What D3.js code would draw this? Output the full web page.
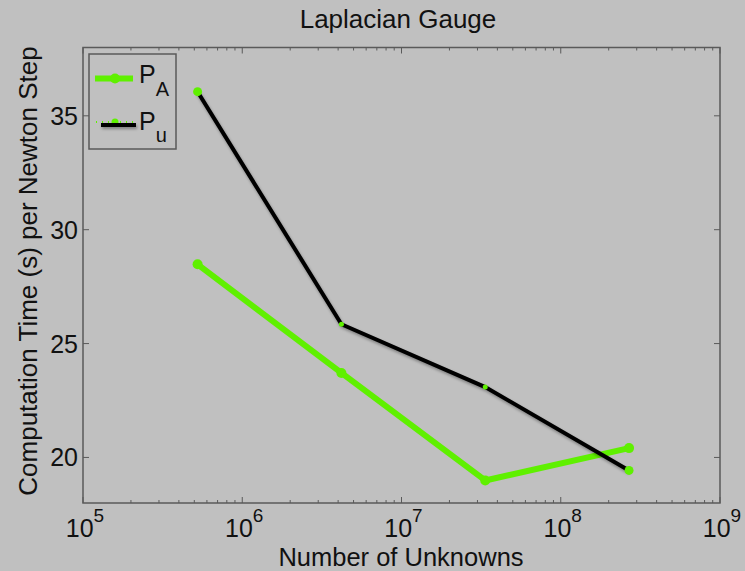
<!DOCTYPE html>
<html><head><meta charset="utf-8">
<script src="https://cdn.jsdelivr.net/npm/d3@7"></script>
<style>body{margin:0;background:#c0c0c0;} svg{display:block;font-family:"Liberation Sans",Arial,sans-serif;}</style>
</head><body>
<svg id="c" width="745" height="571"></svg>
<script>
const unknowns = [524288, 4194304, 33554432, 268435456];
const timePA = [28.48, 23.71, 18.99, 20.41];
const timePu = [36.06, 25.85, 23.09, 19.43];
const yTicks = [20, 25, 30, 35];
const xDecades = [5, 6, 7, 8, 9];
const titleText = "Laplacian Gauge";
const xLabel = "Number of Unknowns";
const yLabel = "Computation Time (s) per Newton Step";

const svg = d3.select("#c");
const L = 83, R = 720, T = 47.5, B = 503;
const green = "#5ff000";
const axisCol = "#5a5a5a";

const x = d3.scaleLog().domain([1e5, 1e9]).range([L, R]);
const y = d3.scaleLinear().domain([18, 38]).range([B, T]);

const defs = svg.append("defs");
const f = defs.append("filter").attr("id","sh").attr("filterUnits","userSpaceOnUse")
  .attr("x",0).attr("y",0).attr("width",745).attr("height",571);
f.append("feGaussianBlur").attr("in","SourceAlpha").attr("stdDeviation",1.5).attr("result","b");
f.append("feOffset").attr("in","b").attr("dx",1).attr("dy",2).attr("result","o");
f.append("feComponentTransfer").attr("in","o").attr("result","o2").append("feFuncA").attr("type","linear").attr("slope",0.35);
const m = f.append("feMerge"); m.append("feMergeNode").attr("in","o2"); m.append("feMergeNode").attr("in","SourceGraphic");

// box
svg.append("rect").attr("x",L).attr("y",T).attr("width",R-L).attr("height",B-T)
  .attr("fill","none").attr("stroke",axisCol).attr("stroke-width",1.5);

// ticks
const minor = [];
xDecades.slice(0,-1).forEach(d => { for (let k=2;k<=9;k++) minor.push(k*Math.pow(10,d)); });
const major = xDecades.map(d => Math.pow(10,d));
const tg = svg.append("g").attr("stroke",axisCol).attr("stroke-width",1);
minor.forEach(v => {
  tg.append("line").attr("x1",x(v)).attr("x2",x(v)).attr("y1",B).attr("y2",B-3);
  tg.append("line").attr("x1",x(v)).attr("x2",x(v)).attr("y1",T).attr("y2",T+3);
});
major.forEach(v => {
  tg.append("line").attr("x1",x(v)).attr("x2",x(v)).attr("y1",B).attr("y2",B-6);
  tg.append("line").attr("x1",x(v)).attr("x2",x(v)).attr("y1",T).attr("y2",T+6);
});
yTicks.forEach(v => {
  tg.append("line").attr("x1",L).attr("x2",L+6).attr("y1",y(v)).attr("y2",y(v));
  tg.append("line").attr("x1",R).attr("x2",R-6).attr("y1",y(v)).attr("y2",y(v));
});

// x tick labels
xDecades.forEach(d => {
  const t = svg.append("text").attr("x",x(Math.pow(10,d))+2).attr("y",537)
    .attr("text-anchor","middle").attr("font-size",25).attr("fill","#111");
  t.append("tspan").text("10");
  t.append("tspan").attr("dy",-15).attr("font-size",19).text(d);
});
// y tick labels
yTicks.forEach(v => {
  svg.append("text").attr("x",78).attr("y",y(v)).attr("dy","0.36em")
    .attr("text-anchor","end").attr("font-size",25).attr("fill","#111").text(v);
});

// title and labels
svg.append("text").attr("x",398).attr("y",28).attr("text-anchor","middle")
  .attr("font-size",26).attr("fill","#111").text(titleText);
svg.append("text").attr("x",401).attr("y",566).attr("text-anchor","middle")
  .attr("font-size",25.5).attr("fill","#111").text(xLabel);
svg.append("text").attr("transform","translate(37,271) rotate(-90)").attr("text-anchor","middle")
  .attr("font-size",26).attr("fill","#111").text(yLabel);

const line = d3.line().x(d => x(d[0])).y(d => y(d[1]));
const dA = unknowns.map((u,i) => [u, timePA[i]]);
const dU = unknowns.map((u,i) => [u, timePu[i]]);

// P_A
svg.append("path").datum(dA).attr("d",line).attr("fill","none").attr("stroke",green)
  .attr("stroke-width",6).attr("stroke-linejoin","round");
svg.selectAll(".ma").data(dA).join("circle").attr("cx",d=>x(d[0])).attr("cy",d=>y(d[1]))
  .attr("r",5).attr("fill",green);

// P_u
svg.append("path").datum(dU).attr("d",line).attr("fill","none").attr("stroke",green)
  .attr("stroke-width",2).attr("stroke-dasharray","2,4");
svg.append("path").datum(dU).attr("d",line).attr("fill","none").attr("stroke","#000")
  .attr("stroke-width",4).attr("filter","url(#sh)");
svg.selectAll(".mu").data(dU).join("circle").attr("cx",d=>x(d[0])).attr("cy",d=>y(d[1]))
  .attr("r",(d,i)=> (i===0||i===dU.length-1) ? 4.5 : 2.5).attr("fill",green);

// legend
const lg = svg.append("g");
lg.append("rect").attr("x",89).attr("y",54).attr("width",87).attr("height",95)
  .attr("fill","#c0c0c0").attr("stroke",axisCol).attr("stroke-width",1.5);
lg.append("line").attr("x1",95).attr("x2",133).attr("y1",78.5).attr("y2",78.5)
  .attr("stroke",green).attr("stroke-width",6);
lg.append("circle").attr("cx",115).attr("cy",78.5).attr("r",5).attr("fill",green);
lg.append("line").attr("x1",96).attr("x2",136).attr("y1",122).attr("y2",122)
  .attr("stroke",green).attr("stroke-width",2).attr("stroke-dasharray","1,5");
lg.append("circle").attr("cx",115).attr("cy",122).attr("r",3.5).attr("fill",green);
lg.append("line").attr("x1",101).attr("x2",136).attr("y1",125).attr("y2",125)
  .attr("stroke","#000").attr("stroke-width",4).attr("filter","url(#sh)");
const t1 = lg.append("text").attr("x",139).attr("y",83).attr("font-size",25).attr("fill","#111");
t1.append("tspan").text("P");
t1.append("tspan").attr("dy",13).attr("font-size",20).text("A");
const t2 = lg.append("text").attr("x",139).attr("y",130).attr("font-size",25).attr("fill","#111");
t2.append("tspan").text("P");
t2.append("tspan").attr("dy",12).attr("font-size",20).text("u");
</script>
</body></html>
